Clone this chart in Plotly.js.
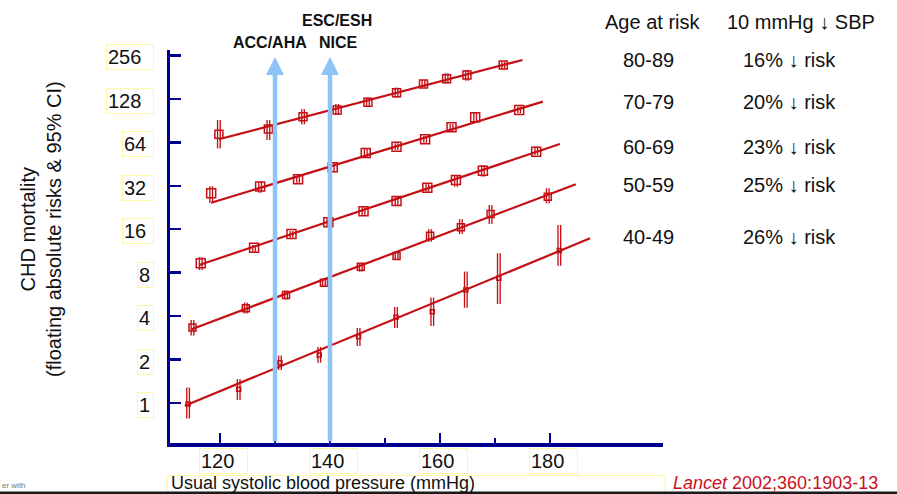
<!DOCTYPE html>
<html>
<head>
<meta charset="utf-8">
<script src="https://cdn.plot.ly/plotly-3.0.1.min.js"></script>
<style>
  html, body { margin: 0; padding: 0; background: #ffffff; }
  #chart { width: 897px; height: 494px; }
</style>
</head>
<body>
<div id="chart"></div>
<script>
// ---------------- DATA ----------------
const ageGroups = ['80-89', '70-79', '60-69', '50-59', '40-49'];
const riskReductions = ['16% ↓ risk', '20% ↓ risk', '23% ↓ risk', '25% ↓ risk', '26% ↓ risk'];

const yTickVals = [1, 2, 4, 8, 16, 32, 64, 128, 256];
const xTickVals = [120, 140, 160, 180];
const xMinorTickVals = [130, 150, 170];
const guidelineSbp = [130, 140];   // ACC/AHA (130), NICE & ESC/ESH (140)

// Age 80-89
const sbp_80_89   = [119.8, 128.8, 135.1, 141.3, 146.9, 152.1, 157.0, 161.2, 164.9, 171.5];
const risk_80_89  = [72.8, 79.2, 96.4, 107.3, 121.3, 141.4, 162.4, 176.8, 187.5, 219.9];
const ciLo_80_89  = [58.2, 66.5, 85.4, 99.0, 113.1, 130.5, 154.1, 164.3, 171.2, 205.4];
const ciHi_80_89  = [91.4, 91.4, 108.5, 118.0, 130.5, 153.1, 173.2, 192.7, 203.1, 231.8];
const fitSbp_80_89  = [119.8, 175.0];
const fitRisk_80_89 = [67.2, 238.2];

// Age 70-79
const sbp_70_79   = [118.4, 127.3, 134.2, 140.5, 146.5, 152.1, 157.3, 162.1, 166.4, 174.4];
const risk_70_79  = [28.4, 31.7, 35.5, 43.0, 54.0, 59.7, 67.2, 81.4, 95.5, 107.3];
const ciLo_70_79  = [24.4, 28.7, 33.6, 39.9, 50.7, 56.7, 63.6, 76.7, 89.0, 101.8];
const ciHi_70_79  = [31.7, 34.2, 37.4, 46.3, 57.6, 63.0, 70.8, 85.8, 102.7, 113.1];
const fitSbp_70_79  = [118.4, 178.7];
const fitRisk_70_79 = [24.4, 122.5];

// Age 60-69
const sbp_60_69   = [116.5, 126.2, 133.0, 139.7, 146.1, 152.1, 157.7, 162.9, 167.8, 177.5];
const risk_60_69  = [9.29, 11.92, 14.83, 17.88, 21.30, 25.11, 31.04, 35.09, 40.72, 55.1];
const ciLo_60_69  = [8.35, 11.18, 13.98, 16.85, 19.86, 23.56, 29.12, 31.54, 37.02, 52.3];
const ciHi_60_69  = [10.23, 12.44, 15.55, 19.05, 22.71, 26.76, 33.31, 38.02, 44.59, 59.7];
const fitSbp_60_69  = [116.2, 181.8];
const fitRisk_60_69 = [9.04, 62.3];

// Age 50-59
const sbp_50_59   = [115.0, 124.7, 132.0, 138.9, 145.6, 152.1, 158.2, 163.8, 169.2, 179.6];
const risk_50_59  = [3.33, 4.53, 5.60, 6.82, 8.80, 10.44, 14.43, 16.50, 20.41, 26.89];
const ciLo_50_59  = [2.94, 4.18, 5.23, 6.40, 8.13, 9.79, 13.12, 14.83, 17.40, 24.21];
const ciHi_50_59  = [3.76, 4.96, 6.00, 7.23, 9.29, 11.18, 15.99, 18.75, 23.56, 30.74];
const fitSbp_50_59  = [114.85, 184.7];
const fitRisk_50_59 = [3.24, 32.8];

// Age 40-49
const sbp_40_49   = [114.2, 123.4, 130.9, 138.05, 145.2, 152.0, 158.6, 164.7, 170.7, 181.7];
const risk_40_49  = [0.984, 1.244, 1.903, 2.151, 2.880, 3.925, 4.293, 6.07, 7.31, 11.4];
const ciLo_40_49  = [0.783, 1.049, 1.693, 1.903, 2.483, 3.310, 3.417, 4.575, 4.85, 8.94];
const ciHi_40_49  = [1.277, 1.466, 2.127, 2.444, 3.310, 4.627, 5.367, 8.13, 10.9, 17.12];
const fitSbp_40_49  = [113.6, 187.3];
const fitRisk_40_49 = [0.958, 13.84];

// ---------------- STYLE ----------------
const FONT = 'Liberation Sans, Arial, Helvetica, sans-serif';
const RED = '#c40f14';
const NAVY = '#00008f';
const BLUE = '#8fc4f7';
const BOX_YELLOW = '#fdf7a6';

const groups = [
  {sbp: sbp_80_89, risk: risk_80_89, lo: ciLo_80_89, hi: ciHi_80_89, fx: fitSbp_80_89, fy: fitRisk_80_89, msize: 8},
  {sbp: sbp_70_79, risk: risk_70_79, lo: ciLo_70_79, hi: ciHi_70_79, fx: fitSbp_70_79, fy: fitRisk_70_79, msize: 9},
  {sbp: sbp_60_69, risk: risk_60_69, lo: ciLo_60_69, hi: ciHi_60_69, fx: fitSbp_60_69, fy: fitRisk_60_69, msize: 9},
  {sbp: sbp_50_59, risk: risk_50_59, lo: ciLo_50_59, hi: ciHi_50_59, fx: fitSbp_50_59, fy: fitRisk_50_59, msize: 7},
  {sbp: sbp_40_49, risk: risk_40_49, lo: ciLo_40_49, hi: ciHi_40_49, fx: fitSbp_40_49, fy: fitRisk_40_49, msize: 4}
];

// ---------------- TRACES ----------------
const ciOuter = [], ciInner = [], fits = [], pts = [];
groups.forEach((g, gi) => {
  const cx = [], cy = [];
  g.sbp.forEach((x, i) => { cx.push(x, x, null); cy.push(g.lo[i], g.hi[i], null); });
  ciOuter.push({x: cx, y: cy, mode: 'lines', line: {color: RED, width: 4}, hoverinfo: 'skip', name: ageGroups[gi] + ' CI'});
  ciInner.push({x: cx, y: cy, mode: 'lines', line: {color: '#ffffff', width: 1.3}, hoverinfo: 'skip', name: ageGroups[gi] + ' CI inner'});
  fits.push({x: g.fx, y: g.fy, mode: 'lines', line: {color: RED, width: 2.2}, name: ageGroups[gi] + ' fit'});
  pts.push({x: g.sbp, y: g.risk, mode: 'markers', name: ageGroups[gi],
            marker: {symbol: 'square-open', size: g.msize, color: RED, line: {color: RED, width: 1.5}}});
});
const traces = [...ciOuter, ...ciInner, ...fits, ...pts];

// ---------------- LAYOUT ----------------
const L = 170, R = 234, T = 50, B = 51, W = 897, H = 494;
const PW = W - L - R, PH = H - T - B;
const px2x = px => (px - L) / PW;           // pixel -> paper x
const px2y = py => (H - B - py) / PH;       // pixel -> paper y

const annotations = [];

// y tick labels (boxed)
yTickVals.forEach(v => {
  const s = String(v);
  const w = s.length === 3 ? 44 : (s.length === 2 ? 28 : 13);
  annotations.push({xref: 'paper', yref: 'y', x: px2x(154), y: Math.log10(v), xanchor: 'right', yanchor: 'middle',
    yshift: -2, text: s, showarrow: false, width: w, align: 'left', bordercolor: BOX_YELLOW, borderwidth: 1, borderpad: 1,
    font: {family: FONT, size: 20, color: '#111'}});
});
// x tick labels (boxed)
xTickVals.forEach(v => {
  annotations.push({xref: 'x', yref: 'paper', x: v, y: px2y(461), xanchor: 'center', yanchor: 'middle',
    xshift: 3.5, text: String(v), showarrow: false, width: 45, align: 'left', bordercolor: BOX_YELLOW, borderwidth: 1, borderpad: 1,
    font: {family: FONT, size: 20, color: '#111'}});
});

// guideline arrows
guidelineSbp.forEach(v => {
  annotations.push({xref: 'x', yref: 'paper', x: v, y: px2y(57), axref: 'pixel', ayref: 'pixel', ax: 0, ay: 386,
    text: '', showarrow: true, arrowhead: 2, arrowsize: 0.8, arrowwidth: 4.5, arrowcolor: BLUE, standoff: 0, startstandoff: 0});
});

// guideline labels
annotations.push({xref: 'paper', yref: 'paper', x: px2x(337), y: px2y(20), xanchor: 'center', yanchor: 'middle',
  text: '<b>ESC/ESH</b>', showarrow: false, font: {family: FONT, size: 16, color: '#111'}});
annotations.push({xref: 'paper', yref: 'paper', x: px2x(270), y: px2y(42), xanchor: 'center', yanchor: 'middle',
  text: '<b>ACC/AHA</b>', showarrow: false, font: {family: FONT, size: 16, color: '#111'}});
annotations.push({xref: 'paper', yref: 'paper', x: px2x(338), y: px2y(42), xanchor: 'center', yanchor: 'middle',
  text: '<b>NICE</b>', showarrow: false, font: {family: FONT, size: 16, color: '#111'}});

// right-hand table
annotations.push({xref: 'paper', yref: 'paper', x: px2x(603), y: px2y(22), xanchor: 'left', yanchor: 'middle',
  text: 'Age at risk', showarrow: false, font: {family: FONT, size: 20, color: '#111'}});
annotations.push({xref: 'paper', yref: 'paper', x: px2x(725), y: px2y(22), xanchor: 'left', yanchor: 'middle',
  text: '10 mmHg ↓ SBP', showarrow: false, font: {family: FONT, size: 20, color: '#111'}});
const rowY = [60, 101.7, 146.7, 185, 236.7];
ageGroups.forEach((a, i) => {
  annotations.push({xref: 'paper', yref: 'paper', x: px2x(621), y: px2y(rowY[i]), xanchor: 'left', yanchor: 'middle',
    text: a, showarrow: false, font: {family: FONT, size: 20, color: '#111'}});
  annotations.push({xref: 'paper', yref: 'paper', x: px2x(741), y: px2y(rowY[i]), xanchor: 'left', yanchor: 'middle',
    text: riskReductions[i], showarrow: false, font: {family: FONT, size: 20, color: '#111'}});
});

// y-axis title
annotations.push({xref: 'paper', yref: 'paper', x: px2x(41), y: px2y(229), xanchor: 'center', yanchor: 'middle',
  text: 'CHD mortality<br>(floating absolute risks &amp; 95% CI)', textangle: -90, showarrow: false,
  font: {family: FONT, size: 20, color: '#111'}});

// x-axis title (inside a faint yellow frame that runs off the bottom edge)
annotations.push({xref: 'paper', yref: 'paper', x: px2x(170), y: px2y(494), xanchor: 'left', yanchor: 'bottom',
  text: 'Usual systolic blood pressure (mmHg)', showarrow: false, borderpad: 0,
  font: {family: FONT, size: 18, color: '#111'}});

// citation
annotations.push({xref: 'paper', yref: 'paper', x: px2x(671), y: px2y(483), xanchor: 'left', yanchor: 'middle',
  text: '<i>Lancet</i> 2002;360:1903-13', showarrow: false, font: {family: FONT, size: 18, color: '#c8101a'}});

// tiny watermark fragment
annotations.push({xref: 'paper', yref: 'paper', x: px2x(0), y: px2y(485), xanchor: 'left', yanchor: 'middle',
  text: 'er with', showarrow: false, font: {family: FONT, size: 8, color: '#777'}});

const shapes = [
  // yellow frame of the x title
  {type: 'rect', xref: 'paper', yref: 'paper', x0: px2x(167), x1: px2x(665), y0: px2y(500), y1: px2y(475.5),
   fillcolor: 'rgba(0,0,0,0)', line: {color: BOX_YELLOW, width: 1}, layer: 'below'},
  // dark rule at the bottom edge
  {type: 'rect', xref: 'paper', yref: 'paper', x0: px2x(0), x1: px2x(897), y0: px2y(494), y1: px2y(491.6),
   fillcolor: '#1a1a1a', line: {width: 0}, layer: 'below'}
];

const layout = {
  width: W, height: H,
  margin: {l: L, r: R, t: T, b: B, pad: 0},
  paper_bgcolor: '#ffffff', plot_bgcolor: 'rgba(0,0,0,0)',
  showlegend: false,
  font: {family: FONT, size: 20, color: '#111'},
  xaxis: {
    range: [110.91, 200.55], showgrid: false, zeroline: false,
    showline: true, linecolor: NAVY, linewidth: 3.5,
    ticks: 'inside', tickmode: 'array', tickvals: xTickVals, ticklen: 10, tickwidth: 2.5, tickcolor: NAVY,
    showticklabels: false,
    minor: {tickmode: 'array', tickvals: xMinorTickVals, ticks: 'inside', ticklen: 5, tickwidth: 2.5, tickcolor: NAVY, showgrid: false}
  },
  yaxis: {
    type: 'log', range: [-0.277, 2.446], showgrid: false, zeroline: false,
    showline: true, linecolor: NAVY, linewidth: 3.5,
    ticks: 'inside', tickmode: 'array', tickvals: yTickVals, ticklen: 11, tickwidth: 2.5, tickcolor: NAVY,
    showticklabels: false
  },
  annotations: annotations,
  shapes: shapes
};

Plotly.newPlot('chart', traces, layout, {staticPlot: true, displayModeBar: false});
</script>
</body>
</html>
